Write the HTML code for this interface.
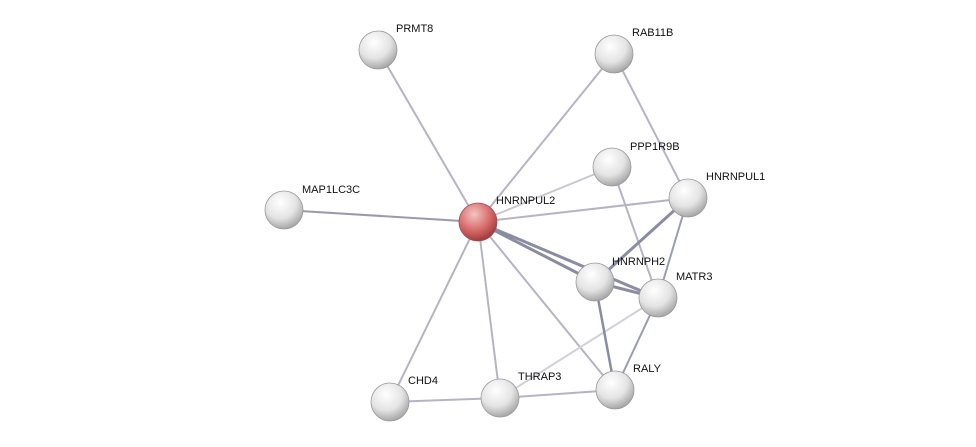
<!DOCTYPE html>
<html><head><meta charset="utf-8"><style>
html,body{margin:0;padding:0;background:#fff;}
svg{display:block;}
text{font-family:"Liberation Sans",sans-serif;font-size:11px;fill:#111;}
</style></head><body>
<svg width="976" height="447" viewBox="0 0 976 447">
<defs>
<radialGradient id="w" cx="40%" cy="30%" r="70%">
<stop offset="0" stop-color="#ffffff"/><stop offset="0.6" stop-color="#e4e4e4"/><stop offset="1" stop-color="#a8a8a8"/>
</radialGradient>
<radialGradient id="r" cx="40%" cy="30%" r="70%">
<stop offset="0" stop-color="#f4c4c4"/><stop offset="0.6" stop-color="#d86a6a"/><stop offset="1" stop-color="#a03c3c"/>
</radialGradient>
</defs>
<g stroke="#b4b4c4" stroke-width="2" fill="none">
<line x1="478" y1="222" x2="378" y2="50"/>
<line x1="478" y1="222" x2="614" y2="54"/>
<line x1="478" y1="222" x2="612" y2="167" stroke="#c8c8d0"/>
<line x1="478" y1="222" x2="688" y2="198"/>
<line x1="478" y1="222" x2="284" y2="210" stroke="#9a9aaa"/>
<line x1="478" y1="222" x2="390" y2="402"/>
<line x1="478" y1="222" x2="500" y2="398"/>
<line x1="478" y1="222" x2="615" y2="390"/>
<line x1="614" y1="54" x2="688" y2="198"/>
<line x1="612" y1="167" x2="658" y2="298"/>
<line x1="688" y1="198" x2="658" y2="298" stroke="#9a9cb4"/>
<line x1="658" y1="298" x2="615" y2="390" stroke="#9a9cb4"/>
<line x1="658" y1="298" x2="500" y2="398" stroke="#d0d0d8"/>
<line x1="390" y1="402" x2="500" y2="398"/>
<line x1="500" y1="398" x2="615" y2="390"/>
</g>
<g stroke="#8a8ca4" stroke-width="3" fill="none">
<line x1="478" y1="222" x2="595" y2="282"/>
<line x1="478" y1="222" x2="658" y2="298"/>
<line x1="688" y1="198" x2="595" y2="282"/>
<line x1="595" y1="282" x2="658" y2="298"/>
<line x1="595" y1="282" x2="615" y2="390" stroke-width="2.5"/>
</g>
<g stroke="#999" stroke-width="0.8">
<circle cx="378" cy="50" r="19" fill="url(#w)"/>
<circle cx="614" cy="54" r="19" fill="url(#w)"/>
<circle cx="612" cy="167" r="19" fill="url(#w)"/>
<circle cx="688" cy="198" r="19" fill="url(#w)"/>
<circle cx="284" cy="210" r="19" fill="url(#w)"/>
<circle cx="595" cy="282" r="19" fill="url(#w)"/>
<circle cx="658" cy="298" r="19" fill="url(#w)"/>
<circle cx="390" cy="402" r="19" fill="url(#w)"/>
<circle cx="500" cy="398" r="19" fill="url(#w)"/>
<circle cx="615" cy="390" r="19" fill="url(#w)"/>
<circle cx="478" cy="222" r="19" fill="url(#r)" stroke="#a05050"/>
</g>
<text x="396" y="32">PRMT8</text>
<text x="632" y="36">RAB11B</text>
<text x="630" y="150">PPP1R9B</text>
<text x="706" y="180">HNRNPUL1</text>
<text x="302" y="193">MAP1LC3C</text>
<text x="496" y="204">HNRNPUL2</text>
<text x="612" y="265">HNRNPH2</text>
<text x="676" y="280">MATR3</text>
<text x="408" y="384">CHD4</text>
<text x="518" y="380">THRAP3</text>
<text x="633" y="372">RALY</text>
</svg>
</body></html>
